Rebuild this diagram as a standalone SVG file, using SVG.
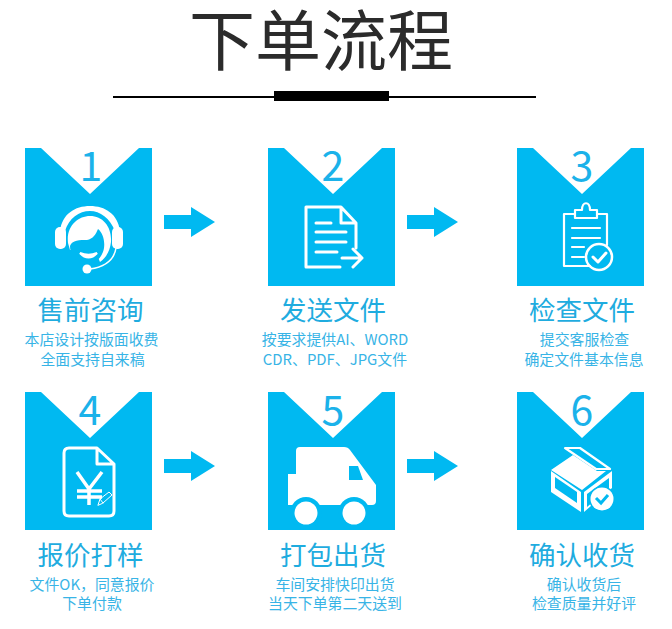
<svg xmlns="http://www.w3.org/2000/svg" width="672" height="629" viewBox="0 0 672 629">
<style>
text{font-family:"Noto Sans CJK SC","Noto Sans",sans-serif;text-anchor:middle}
.t{font-family:"Liberation Sans","Noto Sans CJK SC",sans-serif;font-size:66px;fill:#2b2b2b;font-weight:400}
.n{font-size:41px;fill:#1bb2ea;font-weight:400}
.h{font-size:26.500px;fill:#1facdf;font-weight:400}
.s{font-size:14.900px;fill:#38b4e6;font-weight:400}
.plate{fill:#00b9f1}
.w{fill:#fff}
.o{fill:none;stroke:#fff;stroke-width:3;stroke-linecap:round;stroke-linejoin:round}
.arrow{fill:#00b9f1}
</style>
<defs>
<path id="plate" d="M0 0H16L65 46L114 0H127V138H0Z"/>
<path id="arr" d="M0 -7H27V-15L51 0L27 15V7H0Z"/>
</defs>
<rect width="672" height="629" fill="#fff"/>
<g id="title">
<text class="t" x="321" y="65">下单流程</text>
<rect x="113" y="96" width="423" height="2" fill="#000"/>
<rect x="274" y="91" width="115" height="10" fill="#000"/>
</g>
<g id="connectors">
<use href="#arr" class="arrow" x="164" y="222"/>
<use href="#arr" class="arrow" x="407" y="222"/>
<use href="#arr" class="arrow" x="164" y="466"/>
<use href="#arr" class="arrow" x="407" y="466"/>
</g>
<g id="node1">
<use href="#plate" class="plate" x="25" y="148"/>
<text class="n" x="91" y="181">1</text>
<path class="w" d="M60 231C62 214 75 206 90 206C105 206 118 214 120 231L115 231C110 218 100 211 90 211C79 211 69 218 65 231Z"/>
<rect class="w" x="55" y="227" width="11" height="22" rx="5"/>
<rect class="w" x="112" y="227" width="11" height="22" rx="5"/>
<path class="w" d="M68 243C66 226 78 216 90 216C103 216 112 227 111 242C110 250 107 257 100 262L95 250L70 250Z"/>
<path class="plate" d="M70 246C72 240 80 240 87 240C93 239 96 234 98 229C103 233 105 241 104 248C103 256 96 264 88 264C78 264 70 256 70 246Z"/>
<path d="M80 253C85 259 92 259 97 253C92 255 85 255 80 253Z" fill="#fff" stroke="#fff" stroke-width="2"/>
<path class="o" d="M116 248C114 261 104 267 90 269" style="stroke-width:1.500"/>
<circle class="w" cx="87" cy="269" r="4.500"/>
<text class="h" x="90.500" y="320">售前咨询</text>
<text class="s" x="91.500" y="345">本店设计按版面收费</text>
<text class="s" x="92.500" y="365">全面支持自来稿</text>
</g>
<g id="node2">
<use href="#plate" class="plate" x="268" y="148"/>
<text class="n" x="333" y="181">2</text>
<path class="o" d="M340 267H306V207H341L356 223V248M341 207V223H356"/>
<path class="o" d="M316 223H331M316 232H346M316 242H346M316 252H337M342 258H362M353 249L362 258L353 267"/>
<text class="h" x="333" y="320">发送文件</text>
<text class="s" x="335" y="345">按要求提供AI、WORD</text>
<text class="s" x="335" y="365">CDR、PDF、JPG文件</text>
</g>
<g id="node3">
<use href="#plate" class="plate" x="517" y="148"/>
<text class="n" x="582" y="181">3</text>
<path class="o" style="stroke-width:2.200" d="M575 214H564V266H590M607 245V214H597M575 218V210H582C582 201 590 201 590 210H597V218Z"/>
<path class="o" style="stroke-width:2.200" d="M572 228H600M572 238H600M572 247H584M572 257H584"/>
<circle cx="599" cy="257" r="13" fill="none" stroke="#fff" stroke-width="2.500"/>
<path class="o" d="M593 257L598 262L606 253"/>
<text class="h" x="582" y="320">检查文件</text>
<text class="s" x="584.500" y="345">提交客服检查</text>
<text class="s" x="584" y="365">确定文件基本信息</text>
</g>
<g id="node4">
<use href="#plate" class="plate" x="25" y="392"/>
<text class="n" x="90" y="425">4</text>
<path class="o" style="stroke-width:3" d="M97 448H69Q64 448 64 453V511Q64 516 69 516H109Q114 516 114 511V464L97 448V464H114"/>
<path class="o" style="stroke-width:3.500;stroke-linecap:butt" d="M77 472L89 489L102 472M89 489V505M77 491H102M77 497H102"/>
<path class="o" style="stroke-width:1" d="M98 505L100 499L109 492L112 495L103 503ZM100 499L103 503"/>
<text class="h" x="90.500" y="565">报价打样</text>
<text class="s" x="92" y="590">文件OK，同意报价</text>
<text class="s" x="92" y="609">下单付款</text>
</g>
<g id="node5">
<use href="#plate" class="plate" x="268" y="392"/>
<text class="n" x="333" y="425">5</text>
<path class="w" d="M296 474V451Q296 447 300 447H344Q348 447 350 450L376 485V501Q376 505 372 505H288V474Z"/>
<path class="plate" d="M349 466H358L363 480H349Z"/>
<circle class="plate" cx="306" cy="513" r="16"/>
<circle class="plate" cx="354" cy="513" r="16"/>
<circle class="w" cx="306" cy="513" r="11.500"/>
<circle class="w" cx="354" cy="513" r="11.500"/>
<text class="h" x="333" y="565">打包出货</text>
<text class="s" x="335" y="590">车间安排快印出货</text>
<text class="s" x="335" y="609">当天下单第二天送到</text>
</g>
<g id="node6">
<use href="#plate" class="plate" x="517" y="392"/>
<text class="n" x="582" y="425">6</text>
<path class="o" style="stroke-width:2.200" d="M565 448H580L610 469L596 469Z"/>
<path class="w" d="M551 470L573 455L597 471L606 471L582 490Z"/>
<path class="w" d="M551 471L581 492V512L551 492ZM584 492L612 471V488L584 512Z"/>
<path class="plate" d="M555 477L577 492V503L555 488Z"/>
<path class="plate" d="M587 494L609 478V488L587 507Z"/>
<circle class="plate" cx="602" cy="499" r="13"/>
<circle class="w" cx="602" cy="499" r="11.500"/>
<path d="M596 498L601 503L608 495" fill="none" stroke="#00b9f1" stroke-width="3"/>
<text class="h" x="582" y="565">确认收货</text>
<text class="s" x="584" y="590">确认收货后</text>
<text class="s" x="584" y="609">检查质量并好评</text>
</g>
</svg>
